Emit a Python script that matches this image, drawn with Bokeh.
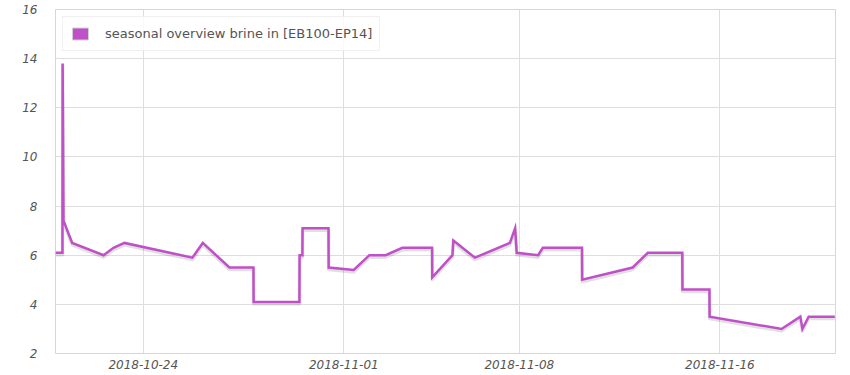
import pandas as pd
from bokeh.plotting import figure
from bokeh.models import ColumnDataSource, FixedTicker, DatetimeTickFormatter, Legend, LegendItem, Range1d
from bokeh.transform import dodge
from bokeh.embed import file_html
from bokeh.resources import INLINE

series_label = "seasonal overview brine in [EB100-EP14]"
times = [
    "2018-10-20 12:00", "2018-10-20 18:40", "2018-10-20 18:50", "2018-10-20 19:40",
    "2018-10-21 04:00", "2018-10-22 10:00", "2018-10-22 19:30", "2018-10-23 06:00",
    "2018-10-25 23:00", "2018-10-26 09:00", "2018-10-27 10:30", "2018-10-28 09:30",
    "2018-10-28 09:40", "2018-10-30 05:30", "2018-10-30 05:40", "2018-10-30 08:20",
    "2018-10-30 08:30", "2018-10-31 09:20", "2018-10-31 09:30", "2018-11-01 09:30",
    "2018-11-02 00:30", "2018-11-02 16:00", "2018-11-03 08:00", "2018-11-04 12:30",
    "2018-11-04 12:40", "2018-11-05 08:00", "2018-11-05 08:50", "2018-11-06 05:30",
    "2018-11-07 15:00", "2018-11-07 20:00", "2018-11-07 21:30", "2018-11-08 18:00",
    "2018-11-08 22:30", "2018-11-10 12:00", "2018-11-10 12:10", "2018-11-12 12:30",
    "2018-11-13 03:00", "2018-11-14 12:00", "2018-11-14 12:10", "2018-11-15 14:00",
    "2018-11-15 14:10", "2018-11-18 11:00", "2018-11-19 05:00", "2018-11-19 07:00",
    "2018-11-19 13:00", "2018-11-20 14:00",
]
values = [
    6.1, 6.1, 13.8, 7.4,
    6.5, 6.0, 6.3, 6.5,
    5.9, 6.5, 5.5, 5.5,
    4.1, 4.1, 6.0, 6.0,
    7.1, 7.1, 5.5, 5.4,
    6.0, 6.0, 6.3, 6.3,
    5.1, 6.0, 6.6, 5.9,
    6.5, 7.1, 6.1, 6.0,
    6.3, 6.3, 5.0, 5.5,
    6.1, 6.1, 4.6, 4.6,
    3.5, 3.0, 3.5, 3.0,
    3.5, 3.5,
]
x_ticks = ["2018-10-24", "2018-11-01", "2018-11-08", "2018-11-16"]
y_ticks = [2, 4, 6, 8, 10, 12, 14, 16]
x_start, x_end = "2018-10-20 12:00", "2018-11-20 14:40"

line_color = "#c050c8"
text_color = "#545454"

src = ColumnDataSource(dict(x=pd.to_datetime(times), y=values))

p = figure(width=842, height=374, x_axis_type="datetime",
           output_backend="svg", toolbar_location=None,
           x_range=Range1d(pd.Timestamp(x_start), pd.Timestamp(x_end)),
           y_range=Range1d(2, 16),
           min_border_left=55, min_border_right=7, min_border_top=9, min_border_bottom=21)

p.outline_line_color = "#d6d6d6"
p.outline_line_width = 1
p.background_fill_color = "white"
p.border_fill_color = "white"

for ax in (p.xaxis[0], p.yaxis[0]):
    ax.axis_line_color = None
    ax.major_tick_line_color = None
    ax.minor_tick_line_color = None
    ax.major_tick_out = 0
    ax.major_tick_in = 0
    ax.minor_tick_out = 0
    ax.minor_tick_in = 0
    ax.major_label_text_font = "DejaVu Sans"
    ax.major_label_text_font_size = "12px"
    ax.major_label_text_font_style = "italic"
    ax.major_label_text_color = text_color

p.xaxis.ticker = FixedTicker(ticks=[pd.Timestamp(t).value / 1e6 for t in x_ticks])
p.xaxis.formatter = DatetimeTickFormatter(days="%Y-%m-%d", months="%Y-%m-%d", hours="%Y-%m-%d")
p.xaxis.major_label_standoff = 6
p.yaxis.ticker = FixedTicker(ticks=y_ticks)
p.yaxis.major_label_standoff = 18

p.xgrid.grid_line_color = "#dedede"
p.ygrid.grid_line_color = "#dedede"
p.xgrid.grid_line_width = 1
p.ygrid.grid_line_width = 1

# shadow
p.line(x="x", y=dodge("y", -0.08, range=p.y_range), source=src,
       line_color="#000000", line_alpha=0.12, line_width=3.5, line_join="round")
p.line(x="x", y="y", source=src, line_color=line_color, line_width=2.5, line_join="miter")

nan = float("nan")
swatch = p.quad(left=[nan], right=[nan], top=[nan], bottom=[nan], fill_color=line_color,
                line_color="#d0d0d0", line_width=1)

legend = Legend(items=[LegendItem(label=series_label, renderers=[swatch], index=0)],
                location="top_left")
legend.label_text_font = "DejaVu Sans"
legend.label_text_font_size = "13px"
legend.label_text_color = text_color
legend.border_line_color = "#e2e2e2"
legend.background_fill_color = "white"
legend.background_fill_alpha = 0.85
legend.glyph_width = 20
legend.glyph_height = 15
legend.label_standoff = 15
legend.padding = 7
legend.margin = 7
legend.label_height = 19
p.add_layout(legend)

open("out.html", "w").write(file_html(p, INLINE))
